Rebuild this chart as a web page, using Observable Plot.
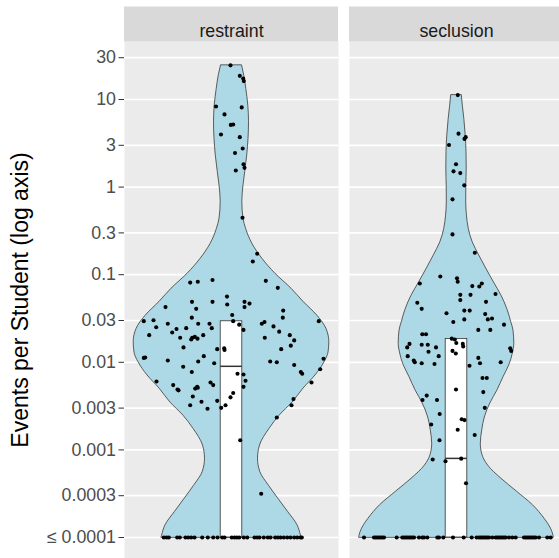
<!DOCTYPE html>
<html>
<head>
<meta charset="utf-8">
<script src="https://cdn.jsdelivr.net/npm/d3@7"></script>
<script src="https://cdn.jsdelivr.net/npm/@observablehq/plot@0.6"></script>
<style>
  html, body { margin: 0; padding: 0; background: white; }
  #wrap { width: 559px; height: 558px; overflow: hidden; }
  #wrap svg { max-width: none !important; display: block; }
</style>
</head>
<body>
<div id="wrap"></div>
<script>
// ---- data ----
const panels = ["restraint", "seclusion"];
const yTitle = "Events per Student (log axis)";

// tick values and labels of the log axis
const tickValues = [0.0001, 0.0003, 0.001, 0.003, 0.01, 0.03, 0.1, 0.3, 1, 3, 10, 30];
const tickLabels = ["\u2264 0.0001", "0.0003", "0.001", "0.003", "0.01", "0.03", "0.1", "0.3", "1", "3", "10", "30"];

// points above the floor: [horizontal jitter, log10(events per student)]
const restraintPts = [
  [-1,1.39],[8.3,1.27],[11.7,1.24],[12.3,1.21],[-15.5,0.92],[10.2,0.91],[-7,0.83],[-0.7,0.71],[1.7,0.715],
  [-10.5,0.60],[8.3,0.57],[11.2,0.44],[3.5,0.39],[12,0.26],[13,0.22],[4.3,0.19],[11,-0.35],[25.7,-0.76],
  [21.3,-0.85],[-41.3,-1.09],[-33.7,-1.08],[-19,-1.06],[34.3,-1.07],[46.3,-1.15],[-4.5,-1.25],[-39.5,-1.31],
  [-19,-1.31],[13,-1.31],[-4.3,-1.34],[18,-1.33],[13,-1.37],[-66,-1.37],[-35.3,-1.39],[51.7,-1.41],[0.7,-1.46],
  [-87.7,-1.53],[-78,-1.52],[-63.7,-1.56],[-39.7,-1.49],[-33.3,-1.56],[-22,-1.56],[-19.7,-1.61],[1.7,-1.53],
  [7.7,-1.57],[12,-1.63],[30.3,-1.56],[33,-1.54],[51.3,-1.49],[42,-1.59],[47.7,-1.65],[87.3,-1.53],[-75.3,-1.60],
  [-82.3,-1.69],[-59.3,-1.66],[-55,-1.62],[-45.3,-1.61],[-51.3,-1.72],[-39.3,-1.72],[-36.7,-1.71],[-40.3,-1.74],
  [-34,-1.73],[-28.3,-1.69],[33.3,-1.72],[58.3,-1.69],[62.7,-1.75],[59.3,-1.81],[-48,-1.83],[-14.3,-1.85],
  [-7.3,-1.84],[-7,-1.86],[49.7,-1.85],[-87.7,-1.95],[-86.3,-1.945],[-63.7,-1.98],[-48.3,-2.05],[-33.3,-1.99],
  [-27.7,-1.93],[-17.3,-2.01],[38.7,-1.99],[45.3,-2.00],[92,-1.96],[62.7,-2.03],[88.7,-2.08],[69.3,-2.11],
  [70.7,-2.13],[-39.7,-2.11],[6,-2.13],[12,-2.14],[14,-2.21],[12,-2.28],[-75,-2.22],[-58.3,-2.26],[-54,-2.31],
  [-53,-2.32],[-36.3,-2.30],[-34.3,-2.28],[-33.7,-2.29],[-21,-2.23],[-18.3,-2.26],[80,-2.23],[-38.7,-2.39],
  [1.7,-2.35],[-1,-2.40],[-41.3,-2.49],[-30,-2.45],[-24,-2.53],[-14.3,-2.44],[-10.3,-2.52],[-6,-2.49],
  [62,-2.42],[60,-2.49],[45.3,-2.63],[8.7,-2.89],[29.7,-3.50]
];
const seclusionPts = [
  [1.3,1.05],[2,0.61],[8,0.55],[9.2,0.57],[-7.5,0.48],[-0.5,0.26],[-3,0.18],[3.8,0.16],[7.8,0.02],[-4,-0.14],
  [-4,-0.54],[18.3,-0.75],[-16.2,-1.02],[0.5,-1.04],[1.2,-1.08],[-36.7,-1.10],[15.8,-1.13],[22.8,-1.135],
  [25.3,-1.10],[39,-1.22],[3.8,-1.23],[14,-1.23],[3.8,-1.29],[-39.2,-1.32],[-34.8,-1.39],[29.5,-1.31],
  [-10,-1.44],[7.8,-1.41],[13.2,-1.41],[28.7,-1.45],[31.3,-1.51],[35.5,-1.50],[-3.2,-1.54],[7.8,-1.51],
  [47.5,-1.57],[21.8,-1.63],[33.8,-1.63],[-34.2,-1.68],[-30.5,-1.68],[-47,-1.79],[-49.3,-1.83],[-34.8,-1.80],
  [-28.7,-1.80],[-20.5,-1.83],[-28,-1.88],[-48.8,-1.93],[-17.8,-1.93],[-42.7,-1.98],[-41.7,-2.00],[-34.8,-2.01],
  [-22,-2.02],[-4.7,-1.73],[-1.7,-1.74],[-0.2,-1.78],[6.3,-1.79],[6.7,-1.82],[-4,-1.87],[-0.7,-1.90],
  [13,-2.04],[21.8,-1.95],[23.5,-2.01],[44.2,-2.00],[53.7,-1.84],[54.7,-1.87],[26,-2.18],[30.3,-2.18],
  [-0.5,-2.31],[26.8,-2.34],[-29.8,-2.38],[-34,-2.43],[-19.5,-2.43],[28.3,-2.52],[-16.8,-2.59],[5.2,-2.65],
  [8,-2.66],[-25.3,-2.71],[1.2,-2.77],[18.2,-2.83],[-17,-2.89],[-23.8,-3.11],[-11,-3.13],[4.7,-3.10],[9.5,-3.38]
];

// points at the floor value (<= 0.0001): horizontal jitter only
const floorValue = 0.0001;
const restraintFloorX = [-67.7,-65,-62.7,-54.3,-51.7,-46,-43.3,-40.3,-37,-29.3,-23.7,-18.3,-14,-9.3,-7,0.3,3,5.3,
  7.7,12.3,15.7,23,25.7,28,32.3,36.3,39,43.7,46.3,49,52.3,55.7,59,62.7,65.7,69,70.3];
const seclusionFloorX = [-92.5,-82.5,-80.8,-79.2,-77.5,-75.8,-74.2,-72.5,-59.8,-54.2,-52.5,-50.8,-49.2,-47.5,
  -45.8,-44.2,-42.5,-37.5,-34.2,-32.5,-29.2,-19.2,-17.5,-13.2,-3.5,7.2,15.2,20.2,22.5,24.2,25.8,27.5,29.2,30.8,
  32.5,35.8,39.2,40.8,42.5,44.2,45.8,47.5,49.2,52.5,55.8,59.2,67.5,69.2,70.8,72.5,74.2,75.8,77.5,79.2,82.5,
  90.8,94.2];

// violin outlines: [log10(value), half width]
const restraintViolin = [
  [1.39,10.5],[1.27,12.8],[1.12,14.8],[0.93,16.8],[0.74,17.5],[0.55,17],[0.36,15.7],[0.17,13.7],[0.02,12],
  [-0.17,10.8],[-0.36,12],[-0.48,14.7],[-0.65,21],[-0.82,31],[-0.99,44],[-1.16,60],[-1.31,72],[-1.47,86],
  [-1.62,95],[-1.77,97.8],[-1.89,97],[-2.00,93],[-2.15,84],[-2.30,72],[-2.46,61],[-2.61,48],[-2.76,38],
  [-2.95,28.5],[-3.10,26.5],[-3.25,28.7],[-3.41,37.5],[-3.56,47],[-3.71,56.7],[-3.86,66],[-3.98,69.5],[-4,70]
];
const seclusionViolin = [
  [1.05,5.3],[0.93,6.3],[0.78,7.8],[0.59,9.2],[0.40,10],[0.21,10.2],[0.02,9.8],[-0.17,9.7],[-0.32,10.4],
  [-0.48,12.3],[-0.63,16.2],[-0.78,22.7],[-0.93,29.7],[-1.09,37.5],[-1.24,45],[-1.39,50.7],[-1.54,54.7],
  [-1.64,57],[-1.79,57.8],[-1.90,56.3],[-2.02,53.3],[-2.17,47],[-2.32,41],[-2.47,33.8],[-2.63,28.3],
  [-2.78,25.7],[-2.93,24.3],[-3.06,26],[-3.18,31.7],[-3.33,45],[-3.48,60.8],[-3.63,76.3],[-3.79,88.3],
  [-3.90,94.5],[-3.98,97],[-4,97.3]
];

// box statistics per panel
const boxQ1 = [0.0001, 0.0001];
const boxMedian = [0.0090, 0.00080];
const boxQ3 = [0.0294, 0.0185];

// ---- build tables ----
const points = [];
restraintPts.forEach(([dx, L]) => points.push({panel: "restraint", dx, value: 10 ** L}));
restraintFloorX.forEach(dx => points.push({panel: "restraint", dx, value: floorValue}));
seclusionPts.forEach(([dx, L]) => points.push({panel: "seclusion", dx, value: 10 ** L}));
seclusionFloorX.forEach(dx => points.push({panel: "seclusion", dx, value: floorValue}));

const violin = [];
[[panels[0], restraintViolin], [panels[1], seclusionViolin]].forEach(([p, arr]) => {
  arr.slice().sort((a, b) => a[0] - b[0]).forEach(([L, hw]) => violin.push({panel: p, value: 10 ** L, hw}));
});

const boxes = panels.map((p, i) => ({panel: p, q1: boxQ1[i], median: boxMedian[i], q3: boxQ3[i]}));
const ticks = tickValues.map((v, i) => ({panel: panels[0], value: v, label: tickLabels[i]}));

const yLo = 10 ** -4.2397, yHi = 10 ** 1.6621;
const boxHalf = 10.8;
const xMin = -107, xMax = 107;

const chart = Plot.plot({
  width: 563,
  height: 558,
  marginLeft: 124,
  marginRight: 0,
  marginTop: 41,
  marginBottom: 0,
  style: {fontFamily: "'Liberation Sans', Arial, sans-serif", background: "white", overflow: "hidden"},
  fx: {domain: panels, paddingInner: 11 / 225, paddingOuter: 0, round: false, axis: null, label: null},
  x: {domain: [xMin, xMax], axis: null},
  y: {type: "log", domain: [yLo, yHi], axis: null},
  marks: [
    Plot.frame({fill: "#EBEBEB"}),
    Plot.ruleY(tickValues, {stroke: "white", strokeWidth: 1.7}),
    Plot.ruleY([yHi], {stroke: "#D9D9D9", strokeWidth: 35, dy: -17.5}),
    Plot.text(panels, {fx: d => d, text: d => d, frameAnchor: "top", dy: -17.5, fontSize: 17.8, fill: "#1A1A1A"}),
    Plot.areaX(violin, {fx: "panel", y: "value", x1: d => -d.hw, x2: d => d.hw,
      fill: "#ADD8E6", stroke: "#3A3A3A", strokeWidth: 0.8, curve: "monotone-y"}),
    Plot.rect(boxes, {fx: "panel", x1: () => -boxHalf, x2: () => boxHalf, y1: "q1", y2: "q3",
      fill: "white", stroke: "#333333", strokeWidth: 0.8}),
    Plot.ruleY(boxes, {fx: "panel", y: "median", x1: () => -boxHalf, x2: () => boxHalf, stroke: "#333333", strokeWidth: 1.5}),
    Plot.dot(points, {fx: "panel", x: "dx", y: "value", r: 2.05, fill: "black"}),
    // y axis: tick marks and labels in the left panel
    Plot.ruleY(ticks, {fx: "panel", y: "value", x1: () => xMin, x2: () => xMin, stroke: "#333333",
      strokeWidth: 1, insetLeft: -5.5}),
    Plot.text(ticks, {fx: "panel", y: "value", text: "label", frameAnchor: "left", textAnchor: "end", dx: -8.5,
      fontSize: 17.8, fill: "#4D4D4D"}),
    Plot.text([panels[0]], {fx: d => d, text: () => yTitle, frameAnchor: "left", textAnchor: "middle",
      dx: -104, rotate: -90, fontSize: 23, fill: "black"})
  ]
});
document.getElementById("wrap").appendChild(chart);
</script>
</body>
</html>
